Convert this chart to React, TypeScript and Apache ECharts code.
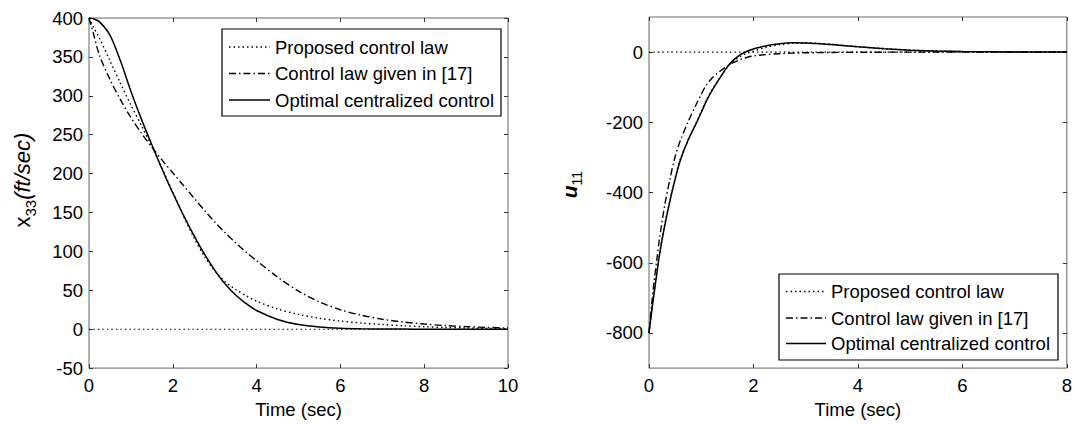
import React, { useEffect, useRef } from "react";
import * as echarts from "echarts";

const FONT = "'Liberation Sans', Arial, Helvetica, sans-serif";

const legendNames = [
  "Proposed control law",
  "Control law given in [17]",
  "Optimal centralized control",
];

// ---- left panel: x33 (ft/sec) vs time ----
const timeLeft = [0, 0.1, 0.25, 0.5, 0.75, 1, 1.25, 1.5, 1.75, 2, 2.25, 2.5, 2.75, 3, 3.25, 3.5, 3.75, 4, 4.5, 5, 5.5, 6, 6.5, 7, 7.5, 8, 8.5, 9, 9.5, 10];
const proposedLeft = [400, 389, 374, 345, 316, 288, 262, 235, 206, 176, 146, 118, 94, 75, 61, 51, 43, 36, 26, 19, 14, 10.5, 8, 6, 4.4, 3.2, 2.3, 1.6, 1.1, 0.7];
const ref17Left = [400, 381, 352, 321, 295, 272, 252, 234, 217, 201, 185, 169, 153, 138, 124, 111, 99, 88, 67, 49, 35, 25, 18, 12.8, 9.2, 6.6, 4.7, 3.3, 2.3, 1.6];
const optimalLeft = [400, 399, 395, 378, 345, 306, 270, 237, 205, 175, 147, 121, 97, 76, 58, 44, 33, 24, 12.5, 6, 2.8, 1.2, 0.5, 0.2, 0.1, 0, 0, 0, 0, 0];
const zeroLeft = [0, 10];

// ---- right panel: u11 vs time ----
const timeRight = [0, 0.05, 0.1, 0.15, 0.2, 0.3, 0.4, 0.5, 0.6, 0.75, 0.9, 1, 1.1, 1.2, 1.3, 1.4, 1.5, 1.6, 1.75, 1.9, 2, 2.2, 2.5, 2.75, 3, 3.25, 3.5, 4, 4.5, 5, 5.5, 6, 7, 8];
const proposedRight = [-800, -735, -680, -626, -575, -492, -423, -360, -305, -250, -203, -169, -136, -109, -86, -63, -43, -28, -12, -2, 3, 12, 21, 25, 26, 25, 22, 15.5, 10, 6, 3.2, 1.6, 0.3, 0];
const ref17Right = [-800, -720, -650, -590, -532, -437, -362, -298, -252, -198, -150, -120, -93, -75, -61, -50, -40, -31, -21, -14, -11, -7.5, -4.5, -3, -2, -1.5, -1, -0.5, -0.2, 0, 0, 0, 0, 0];
const optimalRight = [-800, -740, -685, -630, -578, -495, -425, -362, -308, -250, -204, -172, -139, -111, -87, -64, -42, -25, -7, 4, 9, 17, 24, 26.5, 26, 24, 21.5, 15, 9.5, 5.5, 3, 1.5, 0.3, 0];
const zeroRight = [0, 8];

const yTicksRight = [-800, -600, -400, -200, 0];

const DOT = [1.5, 3];
const DASHDOT = [7, 3, 1.5, 3];

const pairs = (t: number[], v: number[]) => t.map((x, i) => [x, v[i]]);

export default function App() {
  const ref = useRef<HTMLDivElement>(null);

  useEffect(() => {
    const chart = echarts.init(ref.current!, null, { renderer: "svg" });

    const tickStyle = { show: true, inside: true, length: 4, lineStyle: { color: "#333", width: 1 } };
    const labelStyle = { fontSize: 18.5, color: "#000", fontFamily: FONT };

    const xAxis = (gridIndex: number, max: number, position: string, labels: boolean) => ({
      type: "value",
      gridIndex,
      position,
      min: 0,
      max,
      interval: 2,
      axisLine: { show: false, onZero: false },
      axisTick: tickStyle,
      axisLabel: { show: labels, margin: 8, ...labelStyle },
      splitLine: { show: false },
      name: labels ? "Time (sec)" : "",
      nameLocation: "middle",
      nameGap: 29,
      nameTextStyle: { fontSize: 18.5, color: "#000", fontFamily: FONT },
    });

    const line = (name: string, xi: number, yi: number, data: number[][], dash: any, width: number) => ({
      type: "line",
      name,
      xAxisIndex: xi,
      yAxisIndex: yi,
      data,
      showSymbol: false,
      symbol: "none",
      smooth: 0.3,
      lineStyle: { color: "#000", width, type: dash },
      z: 3,
    });

    const legendGroup = (x: number, y: number, w: number, h: number, rows: number[], lx1: number, lx2: number, tx: number) => {
      const dashes = [DOT, DASHDOT, "solid"];
      const els: any[] = [
        { type: "rect", shape: { x, y, width: w, height: h }, style: { fill: "#fff", stroke: "#000", lineWidth: 1.2 }, z: 10 },
      ];
      legendNames.forEach((n, i) => {
        els.push({
          type: "line",
          shape: { x1: lx1, y1: rows[i], x2: lx2, y2: rows[i] },
          style: { stroke: "#000", lineWidth: i === 2 ? 1.5 : 1.3, lineDash: dashes[i] === "solid" ? null : dashes[i] },
          z: 11,
        });
        els.push({
          type: "text",
          x: tx,
          y: rows[i],
          style: { text: n, fill: "#000", font: `18.5px ${FONT}`, textVerticalAlign: "middle", textAlign: "left" },
          z: 11,
        });
      });
      return els;
    };

    chart.setOption({
      animation: false,
      backgroundColor: "#fff",
      textStyle: { fontFamily: FONT },
      grid: [
        { left: 89, top: 18, width: 419, height: 353, show: true, borderColor: "#666", borderWidth: 1, backgroundColor: "transparent" },
        { left: 649, top: 17, width: 418, height: 354.5, show: true, borderColor: "#666", borderWidth: 1, backgroundColor: "transparent" },
      ],
      xAxis: [
        xAxis(0, 10, "bottom", true),
        xAxis(0, 10, "top", false),
        xAxis(1, 8, "bottom", true),
        xAxis(1, 8, "top", false),
      ],
      yAxis: [
        {
          type: "value", gridIndex: 0, position: "left", min: -50, max: 400, interval: 50,
          axisLine: { show: false, onZero: false }, axisTick: tickStyle, splitLine: { show: false },
          axisLabel: { margin: 6, ...labelStyle },
          name: "{n|x}{s|33}{i|(ft/sec)}",
          nameLocation: "middle", nameRotate: 90, nameGap: 54,
          nameTextStyle: {
            color: "#000", fontFamily: FONT, fontSize: 21,
            padding: [0, 0, 0, 26],
            rich: {
              n: { fontSize: 22, fontFamily: FONT, lineHeight: 24, verticalAlign: "top" },
              s: { fontSize: 15, fontFamily: FONT, lineHeight: 15, verticalAlign: "top", padding: [12, 0, 0, 0] },
              i: { fontSize: 22, fontFamily: FONT, fontStyle: "italic", lineHeight: 24, verticalAlign: "top" },
            },
          },
        },
        {
          type: "value", gridIndex: 0, position: "right", min: -50, max: 400, interval: 50,
          axisLine: { show: false, onZero: false }, axisTick: tickStyle, splitLine: { show: false }, axisLabel: { show: false },
        },
        {
          type: "value", gridIndex: 1, position: "left", min: -900, max: 100,
          axisLine: { show: false, onZero: false },
          axisTick: { ...tickStyle, customValues: yTicksRight },
          splitLine: { show: false },
          axisLabel: { margin: 6, ...labelStyle, customValues: yTicksRight },
          name: "{u|u}{s|11}",
          nameLocation: "middle", nameRotate: 90, nameGap: 68,
          nameTextStyle: {
            color: "#000", fontFamily: FONT, fontSize: 20,
            padding: [0, 0, 0, 16],
            rich: {
              u: { fontSize: 21, fontFamily: FONT, fontStyle: "italic", fontWeight: "bold", lineHeight: 22, verticalAlign: "top" },
              s: { fontSize: 14, fontFamily: FONT, lineHeight: 14, verticalAlign: "top", padding: [11, 0, 0, 0] },
            },
          },
        },
        {
          type: "value", gridIndex: 1, position: "right", min: -900, max: 100,
          axisLine: { show: false, onZero: false },
          axisTick: { ...tickStyle, customValues: yTicksRight },
          splitLine: { show: false }, axisLabel: { show: false, customValues: yTicksRight },
        },
      ],
      series: [
        line("zeroL", 0, 0, zeroLeft.map((x) => [x, 0]), DOT, 1.1),
        line(legendNames[0], 0, 0, pairs(timeLeft, proposedLeft), DOT, 1.4),
        line(legendNames[1], 0, 0, pairs(timeLeft, ref17Left), DASHDOT, 1.4),
        line(legendNames[2], 0, 0, pairs(timeLeft, optimalLeft), "solid", 1.5),
        line("zeroR", 2, 2, zeroRight.map((x) => [x, 0]), DOT, 1.1),
        line(legendNames[0], 2, 2, pairs(timeRight, proposedRight), DOT, 1.4),
        line(legendNames[1], 2, 2, pairs(timeRight, ref17Right), DASHDOT, 1.4),
        line(legendNames[2], 2, 2, pairs(timeRight, optimalRight), "solid", 1.5),
      ],
      graphic: [
        ...legendGroup(222, 29, 279, 87, [47, 73.5, 100], 229, 270, 275),
        ...legendGroup(779, 274, 279, 86, [291.5, 318, 343.5], 786, 826, 831),
      ],
    });

    return () => chart.dispose();
  }, []);

  return (
    <div
      ref={ref}
      style={{ position: "absolute", left: 0, top: 0, width: 1075, height: 424, background: "#fff" }}
    />
  );
}
